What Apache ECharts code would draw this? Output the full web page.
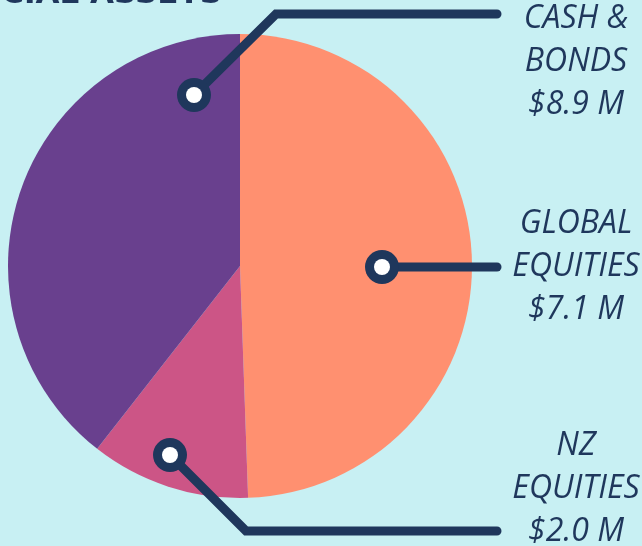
<!DOCTYPE html>
<html>
<head>
<meta charset="utf-8">
<script src="https://cdn.jsdelivr.net/npm/echarts@6/dist/echarts.min.js"></script>
<style>
  html, body { margin: 0; padding: 0; background: #c8f0f3; }
  #chart { width: 642px; height: 546px; }
</style>
</head>
<body>
<div id="chart"></div>
<script>
  // slices, clockwise from 12 o'clock
  const sliceNames = ['CASH & BONDS', 'NZ EQUITIES', 'GLOBAL EQUITIES']
  const sliceValues = [8.9, 2.0, 7.1]
  const sliceColors = ['#ff9070', '#cc5586', '#69408e']

  // callout labels on the right, top to bottom
  const labelLines = [['CASH &', 'BONDS'], ['GLOBAL', 'EQUITIES'], ['NZ', 'EQUITIES']]
  const labelValues = [8.9, 7.1, 2.0]

  const navy = '#1f375c'
  const chart = echarts.init(document.getElementById('chart'))

  // leader lines + markers (annotation only)
  const callouts = [
    { pts: [[194, 95], [276, 14], [497, 14]], ty: 62 },
    { pts: [[382, 267], [497, 267]], ty: 267 },
    { pts: [[170, 455], [246, 531], [497, 531]], ty: 489 }
  ]

  const graphics = [{
    type: 'text',
    x: 222, y: -5,
    z: 100,
    style: {
      text: 'FINANCIAL ASSETS',
      fill: navy,
      font: 'bold 31px "DejaVu Sans"',
      align: 'right',
      verticalAlign: 'middle'
    }
  }]

  callouts.forEach((c, i) => {
    graphics.push({
      type: 'polyline',
      z: 100,
      shape: { points: c.pts },
      style: { stroke: navy, lineWidth: 9, lineCap: 'round', lineJoin: 'miter', fill: null }
    })
    graphics.push({
      type: 'circle',
      z: 101,
      shape: { cx: c.pts[0][0], cy: c.pts[0][1], r: 17 },
      style: { fill: navy }
    })
    graphics.push({
      type: 'circle',
      z: 102,
      shape: { cx: c.pts[0][0], cy: c.pts[0][1], r: 8 },
      style: { fill: '#ffffff' }
    })
    graphics.push({
      type: 'text',
      z: 100,
      x: 576, y: c.ty,
      style: {
        text: labelLines[i].concat('$' + labelValues[i].toFixed(1) + ' M').join('\n'),
        fill: navy,
        font: 'italic 400 32px "Open Sans"',
        lineHeight: 43,
        align: 'center',
        verticalAlign: 'middle'
      }
    })
  })

  const option = {
    backgroundColor: '#c8f0f3',
    animation: false,
    series: [{
      type: 'pie',
      center: [240, 266],
      radius: 232,
      startAngle: 90,
      clockwise: true,
      silent: true,
      label: { show: false },
      labelLine: { show: false },
      data: sliceNames.map((n, i) => ({
        name: n,
        value: sliceValues[i],
        itemStyle: { color: sliceColors[i] }
      }))
    }],
    graphic: graphics
  }
  chart.setOption(option)
</script>
</body>
</html>
